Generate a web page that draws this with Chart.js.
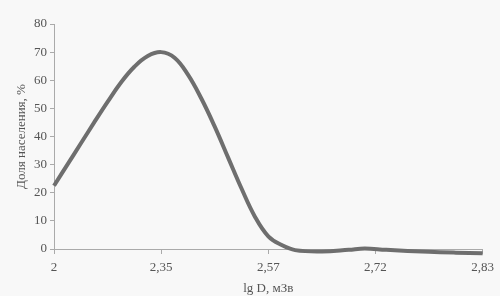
<!DOCTYPE html>
<html>
<head>
<meta charset="utf-8">
<script src="https://cdn.jsdelivr.net/npm/chart.js@4"></script>
<style>
  html, body { margin: 0; padding: 0; background: #f8f8f8; }
  #wrap { width: 500px; height: 296px; }
</style>
</head>
<body>
<div id="wrap"><canvas id="doseChart" width="500" height="296"></canvas></div>
<script>
// подписи делений оси X (деления стоят через равные промежутки)
const tickLabels = ['2', '2,35', '2,57', '2,72', '2,83'];
// положение точек кривой в долях шага между делениями
const xPos = [0, 0.125, 0.25, 0.375, 0.5, 0.625, 0.75, 0.875, 1, 1.125, 1.25, 1.375, 1.5, 1.625, 1.75, 1.875, 2, 2.125, 2.25, 2.5, 2.75, 2.9, 3.1, 3.5, 3.75, 4];
// доля населения, %
const share = [22.5, 30, 37.5, 45, 52.3, 59.2, 64.8, 68.6, 70, 68, 62, 53.5, 43.5, 32.5, 21.5, 11.5, 4.5, 1.4, -0.4, -0.9, -0.3, 0.2, -0.3, -1.0, -1.3, -1.5];
const yTicks = [0, 10, 20, 30, 40, 50, 60, 70, 80];

const ink = '#555';
const serif = "'Liberation Serif', 'DejaVu Serif', serif";

const ctx = document.getElementById('doseChart').getContext('2d');

new Chart(ctx, {
  type: 'line',
  data: {
    datasets: [{
      data: xPos.map((x, i) => ({ x: x, y: share[i] })),
      borderColor: '#6e6e6e',
      borderWidth: 4,
      pointRadius: 0,
      tension: 0.4,
      clip: false,
      fill: false
    }]
  },
  options: {
    responsive: false,
    animation: false,
    layout: { padding: { top: 24, right: 17, left: 0, bottom: 0 } },
    plugins: { legend: { display: false }, tooltip: { enabled: false } },
    scales: {
      x: {
        type: 'linear',
        min: 0,
        max: tickLabels.length - 1,
        afterBuildTicks: (scale) => {
          scale.ticks = tickLabels.map((_, i) => ({ value: i }));
        },
        ticks: {
          callback: (v) => tickLabels[v],
          color: ink,
          font: { family: serif, size: 13 },
          maxRotation: 0,
          padding: 6
        },
        grid: { drawOnChartArea: false, tickLength: 5, color: '#aaa' },
        border: { color: '#aaa', width: 1 },
        title: {
          display: true,
          text: 'lg D, мЗв',
          color: ink,
          font: { family: serif, size: 13 },
          padding: { top: 0, bottom: 0 }
        },
        afterFit: (scale) => { scale.height = 47; }
      },
      y: {
        min: 0,
        max: 80,
        afterBuildTicks: (scale) => {
          scale.ticks = yTicks.map(v => ({ value: v }));
        },
        ticks: {
          color: ink,
          font: { family: serif, size: 13 },
          padding: 3
        },
        grid: { drawOnChartArea: false, tickLength: 4, color: '#aaa' },
        border: { color: '#aaa', width: 1 },
        title: {
          display: true,
          text: 'Доля населения, %',
          color: ink,
          font: { family: serif, size: 13 },
          padding: { top: 14, bottom: 0 }
        },
        afterFit: (scale) => { scale.width = 54; }
      }
    }
  }
});
</script>
</body>
</html>
